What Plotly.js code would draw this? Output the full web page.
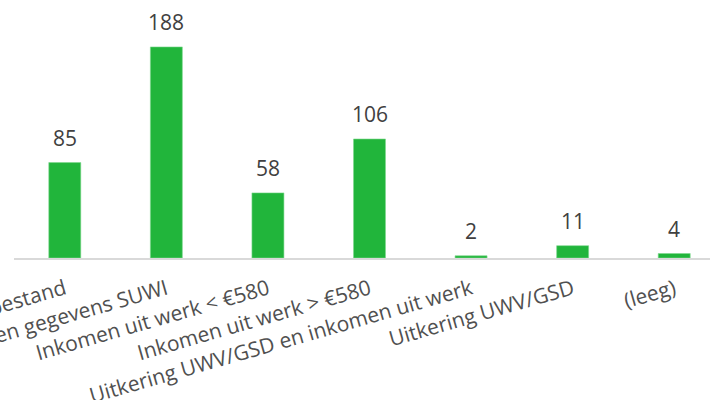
<!DOCTYPE html>
<html><head><meta charset="utf-8">
<script src="https://cdn.plot.ly/plotly-3.0.1.min.js"></script>
<style>html,body{margin:0;padding:0;overflow:hidden;width:710px;height:400px;background:#fff}</style>
</head><body><div id="chart"></div>
<script>
const categories = ["Niet in bestand", "Geen gegevens SUWI", "Inkomen uit werk < €580", "Inkomen uit werk > €580", "Uitkering UWV/GSD en inkomen uit werk", "Uitkering UWV/GSD", "(leeg)"];
const values = [85, 188, 58, 106, 2, 11, 4];

const annotations = categories.map((c, i) => ({
  x: c, y: values[i], xref: 'x', yref: 'y', text: String(values[i]),
  showarrow: false, yanchor: 'bottom', yshift: 9,
  font: {family: 'Open Sans', size: 21, color: '#404040'}
}));

Plotly.newPlot('chart', [{
  type: 'bar', x: categories, y: values,
  marker: {color: '#21B53B', line: {color: '#7fd98e', width: 0.6}},
  hoverinfo: 'none'
}], {
  width: 725, height: 400,
  margin: {l: 14, r: 0, t: 0, b: 142},
  bargap: 0.685,
  showlegend: false,
  paper_bgcolor: '#fff', plot_bgcolor: '#fff',
  xaxis: {
    type: 'category', tickangle: -16, ticks: '', ticklabelstandoff: 9,
    showline: true, linecolor: '#d9d9d9', linewidth: 2, showgrid: false, zeroline: false,
    tickfont: {family: 'Open Sans', size: 21, color: '#505050'}, automargin: false
  },
  yaxis: {range: [0, 229.8], visible: false, showgrid: false, zeroline: false},
  annotations: annotations
}, {staticPlot: true, displayModeBar: false});
</script></body></html>
